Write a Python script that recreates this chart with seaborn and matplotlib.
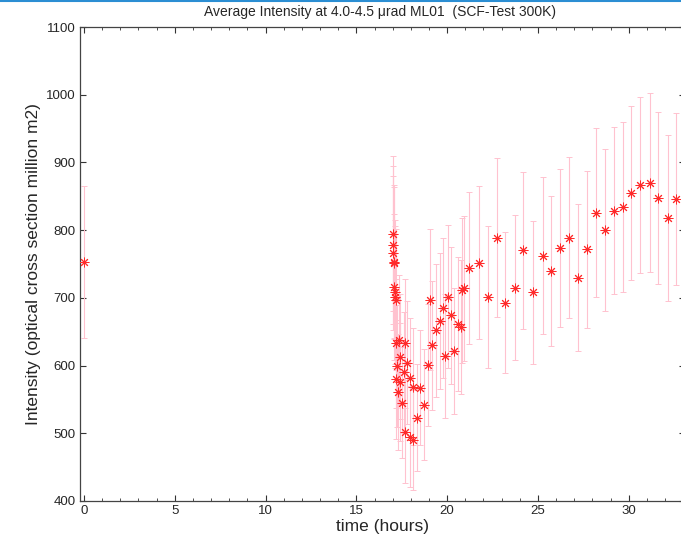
import numpy as np
import pandas as pd
import seaborn as sns
import matplotlib.pyplot as plt
from matplotlib.ticker import MultipleLocator
from matplotlib.lines import Line2D

# veriler
time = [0.0, 17.00, 17.02, 17.04, 17.06, 17.08, 17.10, 17.12, 17.14, 17.16, 17.18,
        17.20, 17.25, 17.30, 17.33, 17.38, 17.40, 17.50, 17.60, 17.70, 17.70, 17.80,
        17.97, 17.97, 18.10, 18.10, 18.35, 18.50, 18.70, 18.96, 19.07, 19.15, 19.38,
        19.58, 19.76, 19.86, 20.07, 20.22, 20.38, 20.62, 20.75, 20.82, 20.93, 21.23,
        21.77, 22.23, 22.73, 23.20, 23.72, 24.19, 24.71, 25.26, 25.70, 26.21, 26.70,
        27.18, 27.68, 28.19, 28.68, 29.18, 29.67, 30.15, 30.64, 31.15, 31.63, 32.14, 32.62]
intensity = [753, 795, 778, 766, 753, 751, 716, 709, 701, 697, 633,
             580, 600, 561, 638, 576, 613, 545, 590, 633, 502, 604,
             582, 495, 569, 490, 523, 567, 542, 601, 697, 630, 652,
             666, 685, 614, 702, 674, 621, 661, 657, 711, 714, 744,
             752, 701, 789, 693, 715, 770, 708, 762, 740, 774, 789,
             730, 772, 826, 800, 829, 834, 855, 867, 870, 847, 818, 846]
error = [112, 115, 116, 114, 113, 112, 108, 106, 105, 104, 95,
         88, 90, 85, 96, 87, 92, 82, 89, 95, 76, 91,
         88, 75, 86, 74, 79, 85, 82, 90, 104, 95, 98,
         100, 103, 92, 105, 101, 93, 99, 99, 107, 107, 112,
         113, 105, 118, 104, 107, 116, 106, 116, 111, 117, 119,
         108, 116, 125, 120, 124, 125, 129, 130, 132, 127, 123, 127]

df = pd.DataFrame({"time": time, "intensity": intensity, "error": error})

sns.set_style("ticks")
plt.rcParams["font.family"] = ["Liberation Sans", "DejaVu Sans"]

fig = plt.figure(figsize=(6.81, 5.43), dpi=100)
ax = fig.add_axes([80 / 681, 1 - 501 / 543, 605 / 681, 474 / 543])

# hata çubukları
ax.errorbar(df["time"], df["intensity"], yerr=df["error"], fmt="none",
            ecolor="#ffc2cf", elinewidth=0.8, capsize=2.5, capthick=0.7, zorder=1)
# noktalar
sns.scatterplot(data=df, x="time", y="intensity", ax=ax, marker=(8, 2, 0), s=42,
                color="#ff2a2a", edgecolor="#ff2a2a", linewidth=0.7, zorder=3, legend=False)

ax.set_xlim(-0.22, 33.1)
ax.set_ylim(400, 1100)
ax.xaxis.set_major_locator(MultipleLocator(5))
ax.xaxis.set_minor_locator(MultipleLocator(1))
ax.yaxis.set_major_locator(MultipleLocator(100))
ax.tick_params(which="both", direction="in", top=True, right=True, color="#333333",
               labelsize=9.5, pad=3)
ax.tick_params(which="major", length=4, width=0.8)
ax.tick_params(which="minor", length=2.5, width=0.6)
for s in ax.spines.values():
    s.set_color("#444444")
    s.set_linewidth(0.9)

ax.set_xlabel("time (hours)", fontsize=12.5, labelpad=1)
ax.set_ylabel("Intensity (optical cross section million m2)", fontsize=12.5, labelpad=4)
fig.text(380 / 681, 1 - 12 / 543, "Average Intensity at 4.0-4.5 \u03bcrad ML01  (SCF-Test 300K)",
         ha="center", va="center", fontsize=10)

# üstteki mavi çizgi
fig.add_artist(Line2D([0, 1], [0.998, 0.998], color="#2b8ed3", lw=1.5))

fig.savefig("out.png", dpi=100)
